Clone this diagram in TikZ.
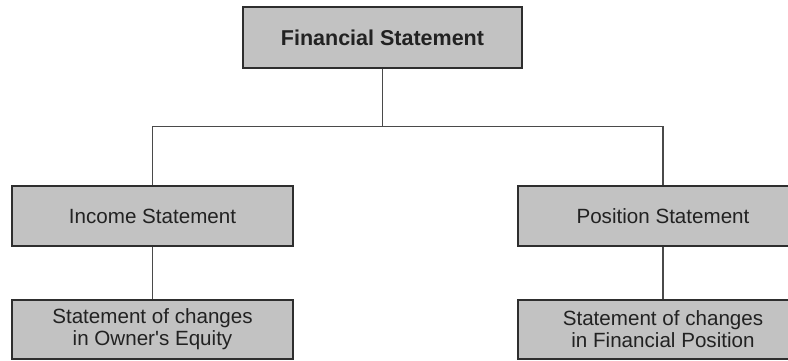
\documentclass[tikz,border=0pt]{standalone}
\usepackage{fontspec}
\setmainfont{Liberation Sans}[Ligatures=TeXOff]
\begin{document}
\begin{tikzpicture}[x=1pt,y=-1pt,
  box/.style={draw=boxline, fill=boxfill, line width=1.3pt, inner sep=0pt,
    align=center, text=textdark, font=\fontsize{20.6}{22}\selectfont},
  link/.style={draw=linkgray, line width=1.1pt}]
\definecolor{boxfill}{HTML}{C2C2C2}
\definecolor{boxline}{HTML}{2E2E2E}
\definecolor{linkgray}{HTML}{4A4A4A}
\definecolor{textdark}{HTML}{222222}
\useasboundingbox (0,0) rectangle (788,360);
\clip (0,0) rectangle (788,360);
\fill[white] (0,0) rectangle (788,360);

% root of the hierarchy
\node[box, minimum width=279, minimum height=61, font=\bfseries\fontsize{21.5}{22}\selectfont]
  (fin) at (382.5,37.5) {Financial Statement};

% second level
\node[box, minimum width=281, minimum height=60] (inc) at (152.5,216) {Income Statement};
\node[box, minimum width=290, minimum height=60] (pos) at (663,216) {Position Statement};

% third level
\node[box, minimum width=281, minimum height=59] (own) at (152.5,329.5)
  {Statement of changes\\in Owner's Equity};
\node[box, minimum width=290, minimum height=59] (fpos) at (663,329.5)
  {Statement of changes\\in Financial Position};

% connectors
\draw[link] (fin.south) -- ++(0,58) coordinate (bus);
\draw[link] (bus) -| (inc.north);
\draw[link] (bus) -| (pos.north);
\draw[link] (inc.south) -- (own.north);
\draw[link] (pos.south) -- (fpos.north);
\end{tikzpicture}
\end{document}
